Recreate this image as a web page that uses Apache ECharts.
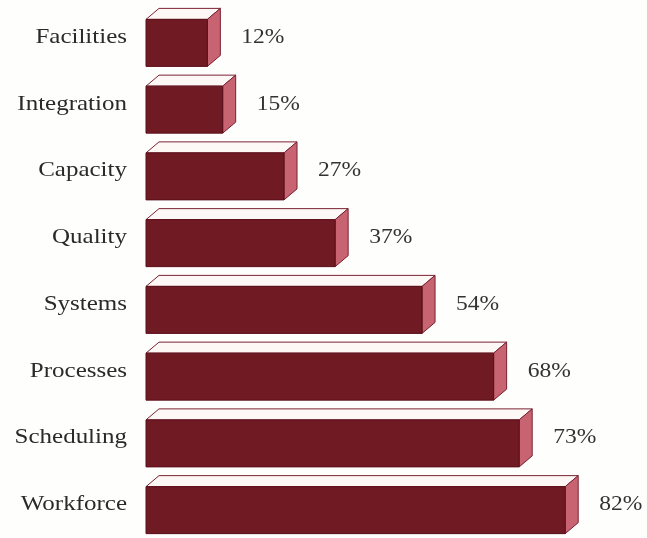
<!DOCTYPE html>
<html>
<head>
<meta charset="utf-8">
<script src="https://cdn.jsdelivr.net/npm/echarts@6/dist/echarts.min.js"></script>
<style>
  html, body { margin: 0; padding: 0; background: #fefefd; }
  #chart { width: 647px; height: 538px; }
</style>
</head>
<body>
<div id="chart"></div>
<script>
// Share of respondents per area (percent)
const categories = ['Facilities', 'Integration', 'Capacity', 'Quality', 'Systems', 'Processes', 'Scheduling', 'Workforce'];
const values = [12, 15, 27, 37, 54, 68, 73, 82];

const FRONT = '#701a24';
const SIDE = '#c86472';
const TOP = '#fdf8f6';
const EDGE = '#7a2232';
const DX = 13;      // depth offset to the right
const DY = 11;      // depth offset upward
const FRONT_H = 47; // height of the front face
const SERIF = '"Liberation Serif", "Times New Roman", serif';

function renderBar(params, api) {
  const idx = api.value(0);
  const val = api.value(1);
  const origin = api.coord([0, idx]);
  const end = api.coord([val, idx]);
  const cy = origin[1];
  const x0 = origin[0];
  const x1 = end[0];
  const total = FRONT_H + DY;
  const yBack = cy - total / 2;
  const yFront = yBack + DY;
  const yBottom = yFront + FRONT_H;
  return {
    type: 'group',
    children: [
      {
        type: 'polygon',
        shape: { points: [[x0, yFront], [x0 + DX, yBack], [x1 + DX, yBack], [x1, yFront]] },
        style: { fill: TOP, stroke: EDGE, lineWidth: 1 }
      },
      {
        type: 'polygon',
        shape: { points: [[x1, yFront], [x1 + DX, yBack], [x1 + DX, yBottom - DY], [x1, yBottom]] },
        style: { fill: SIDE, stroke: EDGE, lineWidth: 1 }
      },
      {
        type: 'rect',
        shape: { x: x0, y: yFront, width: x1 - x0, height: FRONT_H },
        style: { fill: FRONT, stroke: '#5a0f1a', lineWidth: 1 }
      },
      {
        // category name, slightly widened serif
        type: 'text',
        x: x0 - 19,
        y: cy,
        scaleX: 1.19,
        style: {
          text: categories[idx],
          x: 0, y: 0,
          align: 'right',
          verticalAlign: 'middle',
          fill: '#2a2a2a',
          font: '21px ' + SERIF
        }
      },
      {
        // value label
        type: 'text',
        x: x1 + DX + 21,
        y: cy,
        scaleX: 1.12,
        style: {
          text: val + '%',
          x: 0, y: 0,
          verticalAlign: 'middle',
          align: 'left',
          fill: '#333333',
          font: '21px ' + SERIF
        }
      }
    ]
  };
}

const chart = echarts.init(document.getElementById('chart'));
chart.setOption({
  backgroundColor: '#fefefd',
  animation: false,
  grid: { left: 146, top: 4, right: 0, height: 536 },
  xAxis: {
    type: 'value', min: 0, max: 98, show: false
  },
  yAxis: {
    type: 'category',
    data: categories,
    inverse: true,
    axisLine: { show: false },
    axisTick: { show: false },
    splitLine: { show: false },
    axisLabel: { show: false }
  },
  series: [{
    type: 'custom',
    renderItem: renderBar,
    clip: false,
    encode: { x: 1, y: 0 },
    data: values.map((v, i) => [i, v])
  }]
});
</script>
</body>
</html>
